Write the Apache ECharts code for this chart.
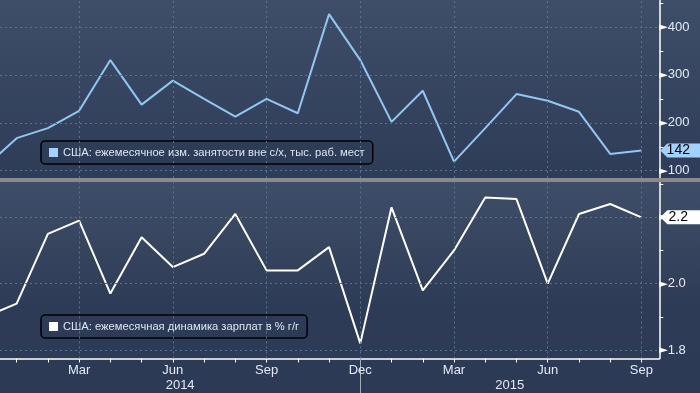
<!DOCTYPE html>
<html>
<head>
<meta charset="utf-8">
<script src="https://cdn.jsdelivr.net/npm/echarts@6/dist/echarts.min.js"></script>
<style>html,body{margin:0;padding:0;background:#2d3a55;}#c{width:700px;height:393px;}</style>
</head>
<body>
<div id="c"></div>
<script>
// ---- data ----
const months = ['Dec','Jan','Feb','Mar','Apr','May','Jun','Jul','Aug','Sep','Oct','Nov','Dec','Jan','Feb','Mar','Apr','May','Jun','Jul','Aug','Sep'];
const years = ['2014','2015'];
const payrolls = [108,168,189,225,331,238,288,250,213,250,220,427,331,202,267,119,189,260,246,223,135,142];
const wages = [1.90,1.94,2.15,2.19,1.97,2.14,2.05,2.09,2.21,2.04,2.04,2.11,1.82,2.23,1.98,2.10,2.26,2.255,2.00,2.21,2.24,2.20];
const payrollTicks = [100,200,300,400];
const payrollMinor = [150,250,350,450];
const wageTicks = [1.8,2.0,2.2];
const wageMinor = [1.9,2.1,2.3];
const seriesNames = ['США: ежемесячное изм. занятости вне с/х, тыс. раб. мест','США: ежемесячная динамика зарплат в % г/г'];
const quarterMonths = ['Mar','Jun','Sep','Dec'];

// ---- layout ----
const W = 700;
const PLOT_RIGHT = 659.3, FIRST_MONTH_PX = -14.6, MONTH_PX = 31.24;
const xMin = -FIRST_MONTH_PX / MONTH_PX;
const xMax = (PLOT_RIGHT - FIRST_MONTH_PX) / MONTH_PX;
const yearSplit = months.indexOf('Dec', 1);
const yearCenters = [(xMin + yearSplit) / 2, (yearSplit + xMax) / 2];
const monthIdx = months.map((m, i) => i).filter(i => i >= xMin);
const quarterIdx = monthIdx.filter(i => quarterMonths.includes(months[i]));

const gridStyle = { color: '#54748f', width: 1, type: [2, 3] };
const labelColor = '#e3eaf5';
const FONT = "'Liberation Sans', Arial, sans-serif";

const topColor = '#92c6f3';
const tagBlue = '#a2d2fb';

function tag(val, txt, fill) {
  return {
    silent: true,
    symbol: 'path://M0,7L7,0L42,0L42,14L7,14Z',
    symbolSize: [42, 14],
    symbolOffset: [22, 0],
    itemStyle: { color: fill },
    label: { show: true, position: 'inside', color: '#000', fontSize: 14, fontFamily: FONT, offset: [-3, 0], formatter: txt },
    data: [{ coord: [xMax, val] }]
  };
}
function grid(ticks) {
  return {
    silent: true, symbol: 'none', label: { show: false }, lineStyle: gridStyle,
    data: quarterIdx.map(i => ({ xAxis: i })).concat(ticks.map(v => ({ yAxis: v })))
  };
}
function yLabel(fmt) {
  return {
    margin: 0,
    formatter: v => '{t|►}{v|' + fmt(v) + '}',
    rich: {
      t: { fontSize: 11, color: '#ffffff', fontFamily: 'DejaVu Sans' },
      v: { fontSize: 13, color: labelColor, fontFamily: FONT }
    }
  };
}
function legend(name, top, color) {
  return { data: [name], left: 41, top: top, selectedMode: false, icon: 'rect', itemWidth: 9, itemHeight: 9, itemGap: 5,
    padding: [6, 8], borderColor: '#000', borderWidth: 1.5, borderRadius: 4, backgroundColor: 'rgba(46,60,87,0.9)',
    textStyle: { color: '#dde6f2', fontSize: 11.2, fontFamily: FONT }, itemStyle: { color: color } };
}

const chart = echarts.init(document.getElementById('c'), null, { renderer: 'canvas' });
chart.setOption({
  animation: false,
  backgroundColor: '#2d3a55',
  textStyle: { fontFamily: FONT },
  graphic: { elements: [
    { type: 'rect', z: -100, silent: true, shape: { x: 0, y: 0, width: W, height: 178 },
      style: { fill: new echarts.graphic.LinearGradient(0, 0, 0, 1, [
        { offset: 0, color: '#3f4e68' }, { offset: 1, color: '#2e3c57' }]) } },
    { type: 'rect', z: -100, silent: true, shape: { x: 0, y: 182, width: W, height: 211 },
      style: { fill: new echarts.graphic.LinearGradient(0, 0, 0, 1, [
        { offset: 0, color: '#3f4e68' }, { offset: 0.6, color: '#2e3b56' }, { offset: 1, color: '#2d3a55' }]) } },
    { type: 'rect', z: 100, silent: true, shape: { x: 0, y: 178, width: W, height: 4 },
      style: { fill: '#8a8a8a' } }
  ]},
  grid: [
    { left: 0, right: W - PLOT_RIGHT, top: 0, height: 178 },
    { left: 0, right: W - PLOT_RIGHT, top: 182, height: 176.5 }
  ],
  legend: [ legend(seriesNames[0], 141, tagBlue), legend(seriesNames[1], 315, '#ffffff') ],
  xAxis: [
    { gridIndex: 0, type: 'value', min: xMin, max: xMax,
      axisLine: { show: false }, axisTick: { show: false }, axisLabel: { show: false }, splitLine: { show: false } },
    { gridIndex: 1, type: 'value', min: xMin, max: xMax, position: 'bottom',
      axisLine: { show: true, onZero: false, lineStyle: { color: '#ffffff', width: 1.5 } },
      axisTick: { show: true, customValues: monthIdx, length: 4, lineStyle: { color: '#ffffff' } },
      axisLabel: { customValues: quarterIdx, formatter: v => months[Math.round(v)], color: labelColor, fontSize: 13, margin: 5 },
      splitLine: { show: false } },
    { gridIndex: 1, type: 'value', min: xMin, max: xMax, position: 'bottom', offset: 0,
      axisLine: { show: false },
      axisTick: { show: true, customValues: [yearSplit], length: 36, lineStyle: { color: '#a3abb7', width: 1 } },
      axisLabel: { customValues: yearCenters, formatter: v => (v < yearSplit ? years[0] : years[1]), color: labelColor, fontSize: 13, margin: 20 },
      splitLine: { show: false } }
  ],
  yAxis: [
    { gridIndex: 0, type: 'value', position: 'right', min: 84.8, max: 456.4,
      axisLine: { show: true, lineStyle: { color: '#ffffff', width: 1.5 } },
      axisTick: { show: true, customValues: payrollMinor, length: 4, lineStyle: { color: '#ffffff' } },
      axisLabel: Object.assign({ customValues: payrollTicks }, yLabel(v => String(v))),
      splitLine: { show: false } },
    { gridIndex: 1, type: 'value', position: 'right', min: 1.7744, max: 2.3064,
      axisLine: { show: true, lineStyle: { color: '#ffffff', width: 1.5 } },
      axisTick: { show: true, customValues: wageMinor, length: 4, lineStyle: { color: '#ffffff' } },
      axisLabel: Object.assign({ customValues: wageTicks }, yLabel(v => v.toFixed(1))),
      splitLine: { show: false } }
  ],
  series: [
    { type: 'line', name: seriesNames[0], xAxisIndex: 0, yAxisIndex: 0, z: 3,
      data: payrolls.map((v, i) => [i, v]), symbol: 'none',
      lineStyle: { color: topColor, width: 2 }, itemStyle: { color: topColor },
      markLine: grid(payrollTicks),
      markPoint: tag(payrolls[payrolls.length - 1], String(payrolls[payrolls.length - 1]), tagBlue) },
    { type: 'line', name: seriesNames[1], xAxisIndex: 1, yAxisIndex: 1, z: 3,
      data: wages.map((v, i) => [i, v]), symbol: 'none',
      lineStyle: { color: '#ffffff', width: 2 }, itemStyle: { color: '#ffffff' },
      markLine: grid(wageTicks),
      markPoint: tag(wages[wages.length - 1], wages[wages.length - 1].toFixed(1), '#ffffff') }
  ]
});
</script>
</body>
</html>
